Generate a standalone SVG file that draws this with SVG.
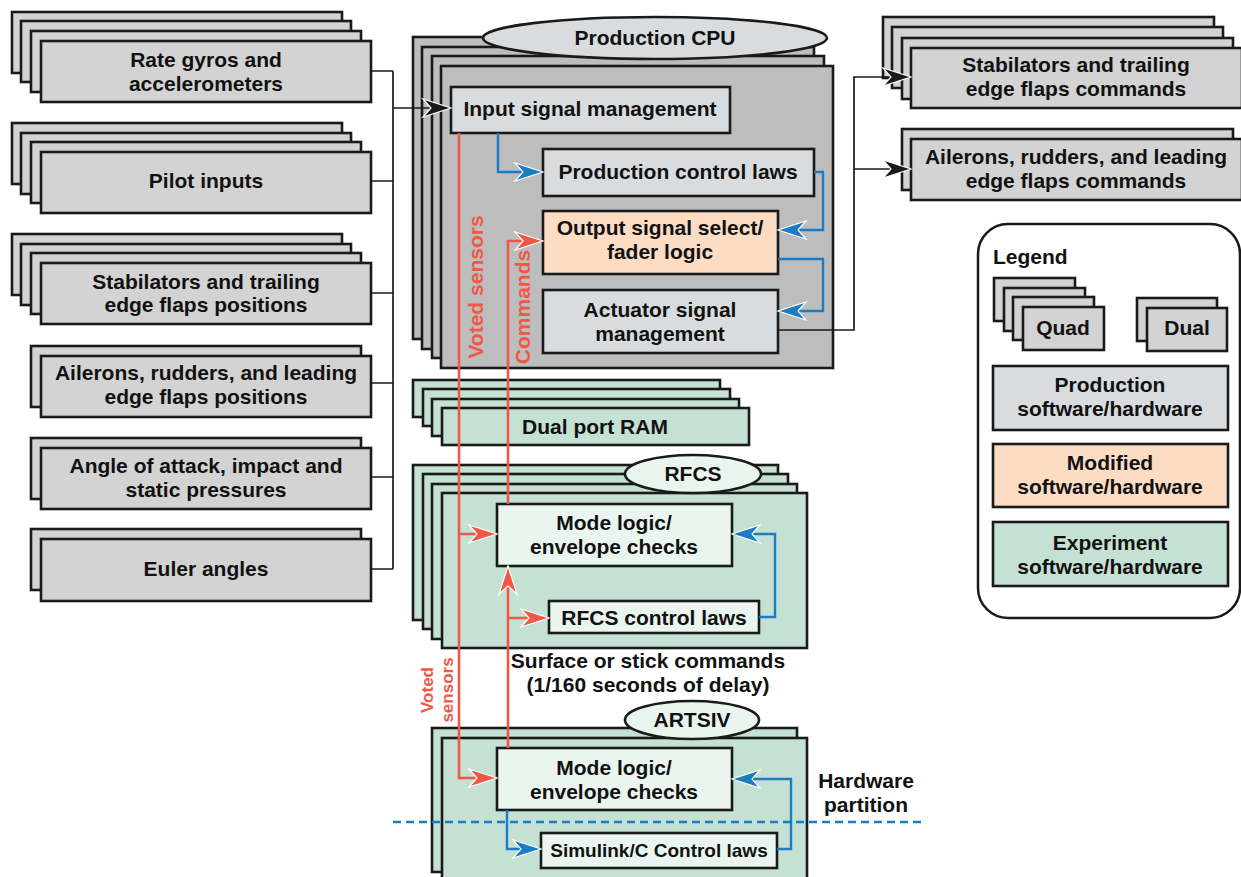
<svg xmlns="http://www.w3.org/2000/svg" width="1241" height="877" viewBox="0 0 1241 877">
<defs>
<style>
text{font-family:"Liberation Sans",Arial,sans-serif;font-weight:bold;font-size:21px;fill:#111;text-anchor:middle}
.g{fill:#d3d3d3;stroke:#1a1a1a;stroke-width:2.6}
.cpu{fill:#bdbdbd;stroke:#1a1a1a;stroke-width:2.6}
.pl{fill:#d9dcde;stroke:#1a1a1a;stroke-width:2.6}
.pe{fill:#fddcc4;stroke:#1a1a1a;stroke-width:2.6}
.gr{fill:#c5e1d3;stroke:#1a1a1a;stroke-width:2.6}
.lg{fill:#eaf5ef;stroke:#1a1a1a;stroke-width:2.6}
.k{fill:none;stroke:#1a1a1a;stroke-width:1.7}
.r{fill:none;stroke:#ef5846;stroke-width:2.6}
.b{fill:none;stroke:#1a7cc2;stroke-width:2.4}
.red{fill:#ef5846}
.sm{font-size:19px}
</style>
<marker id="ak" viewBox="0 0 32 22" refX="30" refY="11" markerWidth="32" markerHeight="22" markerUnits="userSpaceOnUse" orient="auto" overflow="visible"><path d="M30,11 L2,2 L10,11 L2,20 Z" fill="#1a1a1a" stroke="#fff" stroke-width="1.2"/></marker>
<marker id="ar" viewBox="0 0 32 22" refX="30" refY="11" markerWidth="32" markerHeight="22" markerUnits="userSpaceOnUse" orient="auto" overflow="visible"><path d="M30,11 L2,2 L10,11 L2,20 Z" fill="#ef5846" stroke="#fff" stroke-width="1.2"/></marker>
<marker id="ab" viewBox="0 0 32 22" refX="30" refY="11" markerWidth="32" markerHeight="22" markerUnits="userSpaceOnUse" orient="auto" overflow="visible"><path d="M30,11 L2,2 L10,11 L2,20 Z" fill="#1a7cc2" stroke="#fff" stroke-width="1.2"/></marker>
</defs>
<rect width="1241" height="877" fill="#fff"/>

<!-- Left input stacks -->
<g id="rate-gyros">
<rect class="g" x="12" y="12" width="330" height="61"/><rect class="g" x="21" y="21" width="330" height="61"/><rect class="g" x="31" y="31" width="330" height="61"/><rect class="g" x="41" y="41" width="330" height="61"/>
<text x="206" y="67">Rate gyros and</text><text x="206" y="91">accelerometers</text>
</g>
<g id="pilot-inputs">
<rect class="g" x="12" y="123" width="330" height="61"/><rect class="g" x="21" y="133" width="330" height="61"/><rect class="g" x="31" y="142" width="330" height="61"/><rect class="g" x="41" y="152" width="330" height="61"/>
<text x="206" y="188">Pilot inputs</text>
</g>
<g id="stab-positions">
<rect class="g" x="12" y="234" width="330" height="61"/><rect class="g" x="21" y="244" width="330" height="61"/><rect class="g" x="31" y="253" width="330" height="61"/><rect class="g" x="41" y="263" width="330" height="61"/>
<text x="206" y="289">Stabilators and trailing</text><text x="206" y="312">edge flaps positions</text>
</g>
<g id="ailerons-positions">
<rect class="g" x="31" y="346" width="330" height="61"/><rect class="g" x="41" y="356" width="330" height="61"/>
<text x="206" y="380">Ailerons, rudders, and leading</text><text x="206" y="404">edge flaps positions</text>
</g>
<g id="angle-of-attack">
<rect class="g" x="31" y="438" width="330" height="61"/><rect class="g" x="41" y="448" width="330" height="61"/>
<text x="206" y="473">Angle of attack, impact and</text><text x="206" y="497">static pressures</text>
</g>
<g id="euler-angles">
<rect class="g" x="31" y="529" width="330" height="61"/><rect class="g" x="41" y="539" width="330" height="62"/>
<text x="206" y="576">Euler angles</text>
</g>

<!-- Production CPU -->
<g id="production-cpu">
<rect class="cpu" x="413" y="37" width="392" height="302"/><rect class="cpu" x="422" y="47" width="392" height="302"/><rect class="cpu" x="432" y="56" width="392" height="302"/><rect class="cpu" x="441" y="66" width="392" height="302"/>
<ellipse class="pl" cx="655" cy="38" rx="172" ry="21"/>
<text x="655" y="45">Production CPU</text>
</g>
<g id="input-signal-management">
<rect class="pl" x="451" y="87" width="279" height="46"/>
<text x="590" y="116">Input signal management</text>
</g>
<g id="production-control-laws">
<rect class="pl" x="543" y="149" width="271" height="47"/>
<text x="678" y="179">Production control laws</text>
</g>
<g id="output-signal-select">
<rect class="pe" x="543" y="211" width="235" height="63"/>
<text x="660" y="235">Output signal select/</text><text x="660" y="259">fader logic</text>
</g>
<g id="actuator-signal-management">
<rect class="pl" x="543" y="290" width="235" height="63"/>
<text x="660" y="317">Actuator signal</text><text x="660" y="341">management</text>
</g>

<!-- Right command stacks -->
<g id="stab-commands">
<rect class="g" x="883" y="17" width="331" height="61"/><rect class="g" x="892" y="27" width="331" height="61"/><rect class="g" x="902" y="38" width="331" height="61"/><rect class="g" x="911" y="48" width="331" height="60"/>
<text x="1076" y="72">Stabilators and trailing</text><text x="1076" y="96">edge flaps commands</text>
</g>
<g id="ailerons-commands">
<rect class="g" x="902" y="129" width="331" height="61"/><rect class="g" x="911" y="139" width="331" height="61"/>
<text x="1076" y="164">Ailerons, rudders, and leading</text><text x="1076" y="188">edge flaps commands</text>
</g>

<!-- Dual port RAM -->
<g id="dual-port-ram">
<rect class="gr" x="413" y="380" width="307" height="37"/><rect class="gr" x="423" y="389" width="307" height="37"/><rect class="gr" x="432" y="399" width="307" height="37"/><rect class="gr" x="442" y="408" width="307" height="37"/>
<text x="595" y="434">Dual port RAM</text>
</g>

<!-- RFCS -->
<g id="rfcs">
<rect class="gr" x="413" y="465" width="365" height="155"/><rect class="gr" x="423" y="474" width="365" height="155"/><rect class="gr" x="432" y="484" width="365" height="155"/><rect class="gr" x="442" y="493" width="365" height="155"/>
<ellipse class="lg" cx="693" cy="474" rx="68" ry="19"/>
<text x="693" y="481">RFCS</text>
</g>
<g id="rfcs-mode-logic">
<rect class="lg" x="497" y="504" width="235" height="62"/>
<text x="614" y="530">Mode logic/</text><text x="614" y="554">envelope checks</text>
</g>
<g id="rfcs-control-laws">
<rect class="lg" x="549" y="601" width="210" height="32"/>
<text x="654" y="625">RFCS control laws</text>
</g>

<g id="surface-commands-label">
<text x="648" y="668">Surface or stick commands</text><text x="648" y="692">(1/160 seconds of delay)</text>
</g>

<!-- ARTSIV -->
<g id="artsiv">
<rect class="gr" x="432" y="728" width="365" height="144"/><rect class="gr" x="442" y="738" width="365" height="150"/>
<ellipse class="lg" cx="692" cy="720" rx="67" ry="19"/>
<text x="692" y="727">ARTSIV</text>
</g>
<g id="artsiv-mode-logic">
<rect class="lg" x="497" y="748" width="235" height="62"/>
<text x="614" y="775">Mode logic/</text><text x="614" y="799">envelope checks</text>
</g>
<g id="simulink-control-laws">
<rect class="lg" x="541" y="833" width="236" height="35"/>
<text class="sm" x="659" y="857">Simulink/C Control laws</text>
</g>

<g id="hardware-partition">
<line x1="393" y1="822" x2="925" y2="822" stroke="#1a7cc2" stroke-width="2.5" stroke-dasharray="8,5"/>
<text x="866" y="788">Hardware</text><text x="866" y="812">partition</text>
</g>

<!-- Legend -->
<g id="legend">
<rect x="978" y="224" width="262" height="394" rx="30" fill="#fff" stroke="#1a1a1a" stroke-width="2.5"/>
<text x="993" y="264" style="text-anchor:start">Legend</text>
<rect class="g" x="994" y="278" width="81" height="43"/><rect class="g" x="1004" y="288" width="81" height="43"/><rect class="g" x="1013" y="297" width="81" height="43"/><rect class="g" x="1023" y="307" width="81" height="43"/>
<text x="1063" y="335">Quad</text>
<rect class="g" x="1137" y="298" width="80" height="43"/><rect class="g" x="1147" y="308" width="80" height="43"/>
<text x="1187" y="335">Dual</text>
<rect class="pl" x="993" y="366" width="235" height="64"/>
<text x="1110" y="392">Production</text><text x="1110" y="416">software/hardware</text>
<rect class="pe" x="993" y="444" width="235" height="63"/>
<text x="1110" y="470">Modified</text><text x="1110" y="494">software/hardware</text>
<rect class="gr" x="993" y="522" width="235" height="64"/>
<text x="1110" y="550">Experiment</text><text x="1110" y="574">software/hardware</text>
</g>

<!-- Connectors -->
<g id="connectors">
<path class="k" d="M371,71 H393 M371,181 H393 M371,293 H393 M371,383 H393 M371,477 H393 M371,569 H393 M393,71 V569"/>
<path class="k" d="M393,108 H451" marker-end="url(#ak)"/>
<path class="k" d="M778,330 H854 V77 H911" marker-end="url(#ak)"/>
<path class="k" d="M854,169 H911" marker-end="url(#ak)"/>
<path class="b" d="M498,133 V172 H543" marker-end="url(#ab)"/>
<path class="b" d="M814,172 H823 V230 H778" marker-end="url(#ab)"/>
<path class="b" d="M778,259 H823 V311 H778" marker-end="url(#ab)"/>
<path class="b" d="M759,617 H775 V534 H732" marker-end="url(#ab)"/>
<path class="b" d="M507,810 V849 H541" marker-end="url(#ab)"/>
<path class="b" d="M777,849 H791 V779 H732" marker-end="url(#ab)"/>
<path class="r" d="M459,133 V778 H497" marker-end="url(#ar)"/>
<path class="r" d="M459,534 H497" marker-end="url(#ar)"/>
<path class="r" d="M508,748 V566" marker-end="url(#ar)"/>
<path class="r" d="M508,618 H549" marker-end="url(#ar)"/>
<path class="r" d="M508,504 V241 H543" marker-end="url(#ar)"/>
<text class="red" transform="translate(475,287) rotate(-90)" dominant-baseline="central">Voted sensors</text>
<text class="red" transform="translate(522,307) rotate(-90)" dominant-baseline="central">Commands</text>
<text class="red" style="font-size:17px" transform="translate(427,690) rotate(-90)" dominant-baseline="central">Voted</text>
<text class="red" style="font-size:17px" transform="translate(447,690) rotate(-90)" dominant-baseline="central">sensors</text>
</g>
</svg>
